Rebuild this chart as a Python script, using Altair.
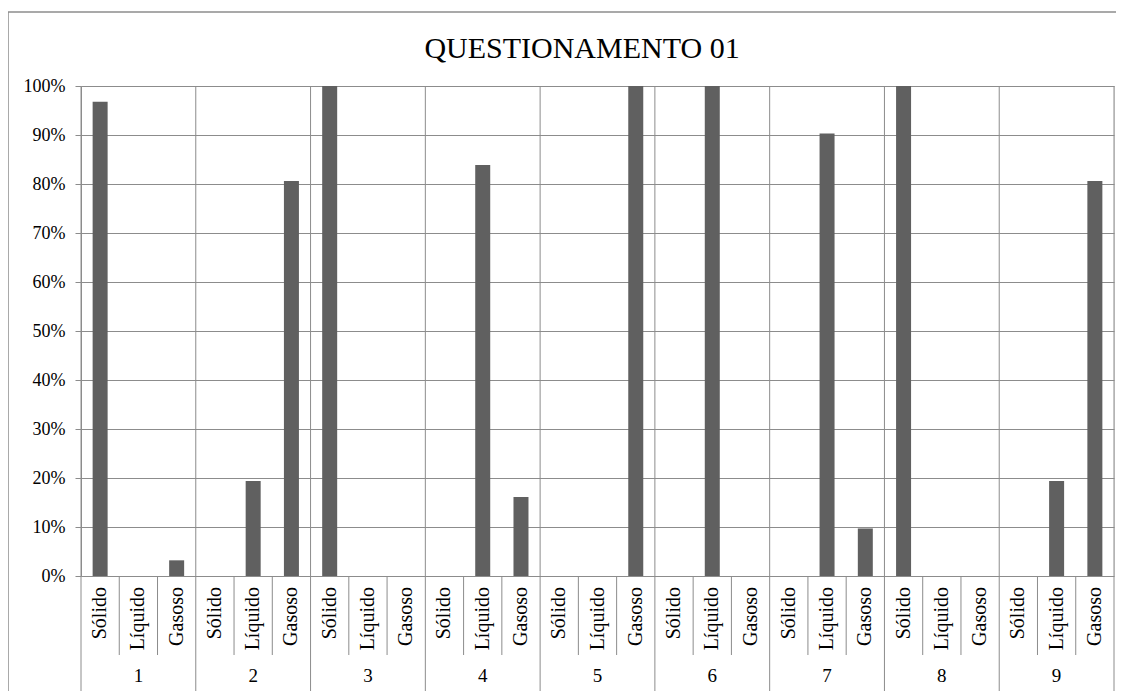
import altair as alt
import pandas as pd

# ---- data ----
grupos = ["1", "2", "3", "4", "5", "6", "7", "8", "9"]
estados = ["Sólido", "Líquido", "Gasoso"]
solido = [0.968, 0.0, 1.0, 0.0, 0.0, 0.0, 0.0, 1.0, 0.0]
liquido = [0.0, 0.194, 0.0, 0.839, 0.0, 1.0, 0.903, 0.0, 0.194]
gasoso = [0.032, 0.806, 0.0, 0.161, 1.0, 0.0, 0.097, 0.0, 0.806]
y_ticks = [0.0, 0.1, 0.2, 0.3, 0.4, 0.5, 0.6, 0.7, 0.8, 0.9, 1.0]
titulo = "QUESTIONAMENTO  01"

series = [solido, liquido, gasoso]
k = len(estados)
rows = []
for gi, g in enumerate(grupos):
    for si, s in enumerate(estados):
        rows.append({"grupo": g, "estado": s, "valor": series[si][gi],
                     "pos": gi * k + si + 0.5})
df = pd.DataFrame(rows)
n = len(df)
gdf = pd.DataFrame({"grupo": grupos,
                    "gpos": [gi * k + k / 2 for gi in range(len(grupos))]})
# category boundaries (group boundaries and sub-category boundaries)
group_bounds = pd.DataFrame({"b": [gi * k for gi in range(len(grupos) + 1)]})
sub_bounds = pd.DataFrame({"b": [b for b in range(n + 1) if b % k != 0]})
one = pd.DataFrame({"a": [0]})

W, H = 1033, 490
PAD_L, PAD_T, PAD_R, PAD_B = 73, 78, 2, 115
GRAY = "#8c8c8c"
BAR = "#606060"
FONT = "Liberation Serif"

xscale = alt.Scale(domain=[0, n], nice=False, zero=False, padding=0)
yscale = alt.Scale(domain=[0, 1], nice=False)

yaxis = alt.Axis(
    values=y_ticks, format=".0%", grid=True, gridColor=GRAY, gridWidth=1,
    domainColor=GRAY, tickColor=GRAY, tickSize=6, labelPadding=10,
    labelFont=FONT, labelFontSize=18, labelColor="black", title=None,
)

gridlines = alt.Chart(group_bounds).mark_rule(color=GRAY, strokeWidth=1).encode(
    x=alt.X("b:Q", scale=xscale, axis=None),
    y=alt.value(0),
    y2=alt.value(H + PAD_B),
)
sublines = alt.Chart(sub_bounds).mark_rule(color=GRAY, strokeWidth=1).encode(
    x=alt.X("b:Q", scale=xscale, axis=None),
    y=alt.value(H),
    y2=alt.value(H + 79),
)

bars = alt.Chart(df).mark_bar(orient="vertical", size=15, color=BAR).encode(
    x=alt.X("pos:Q", scale=xscale, axis=None),
    y=alt.Y("valor:Q", scale=yscale, axis=yaxis),
)

labels = alt.Chart(df).mark_text(
    font=FONT, fontSize=20, angle=270, align="right", baseline="middle", color="black"
).encode(
    x=alt.X("pos:Q", scale=xscale, axis=None),
    y=alt.value(H + 11),
    text="estado:N",
)

glabels = alt.Chart(gdf).mark_text(
    font=FONT, fontSize=19, align="center", baseline="middle", color="black"
).encode(
    x=alt.X("gpos:Q", scale=xscale, axis=None),
    y=alt.value(H + 100),
    text="grupo:N",
)

border_top = alt.Chart(one).mark_rule(color=GRAY, strokeWidth=1.5).encode(
    x=alt.value(-73), x2=alt.value(W + PAD_R), y=alt.value(-74)
)
border_left = alt.Chart(one).mark_rule(color=GRAY, strokeWidth=1.5).encode(
    x=alt.value(-73), y=alt.value(-74), y2=alt.value(H + PAD_B)
)

chart = alt.layer(
    border_top, border_left, gridlines, sublines, bars, labels, glabels
).properties(
    width=W,
    height=H,
    title=alt.TitleParams(
        titulo, font=FONT, fontSize=30, fontWeight="normal", color="black",
        anchor="middle", frame="group", dx=-15.5, offset=0, dy=76.5, baseline="alphabetic",
    ),
    autosize=alt.AutoSizeParams(type="none"),
    padding={"left": PAD_L, "top": PAD_T, "right": PAD_R, "bottom": PAD_B},
).configure_view(stroke=None).configure(background="white")

chart.save("out.html", embed_options={"renderer": "svg", "actions": False})
